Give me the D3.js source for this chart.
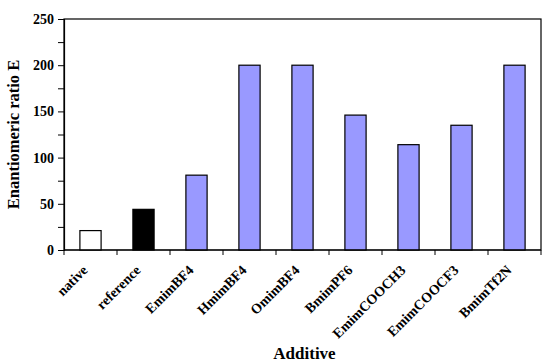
<!DOCTYPE html>
<html>
<head>
<meta charset="utf-8">
<script src="https://cdn.jsdelivr.net/npm/d3@7"></script>
<style>
  body { margin: 0; background: #fff; }
  svg text { font-family: "Liberation Serif", "Times New Roman", serif; font-weight: bold; }
</style>
</head>
<body>
<div id="chart"></div>
<script>
// data
const categories = ['native', 'reference', 'EmimBF4', 'HmimBF4', 'OmimBF4', 'BmimPF6', 'EmimCOOCH3', 'EmimCOOCF3', 'BmimTf2N'];
const values = [21, 44, 81, 200, 200, 146, 114, 135, 200];
const fills = ['#ffffff', '#000000', '#9999ff', '#9999ff', '#9999ff', '#9999ff', '#9999ff', '#9999ff', '#9999ff'];
const yTicks = [0, 50, 100, 150, 200, 250];

const width = 550, height = 364;
const margin = { top: 19, right: 9, bottom: 114, left: 64 };
const innerW = width - margin.left - margin.right;
const innerH = height - margin.top - margin.bottom;

const svg = d3.select('#chart')
  .append('svg')
  .attr('width', width)
  .attr('height', height);

const g = svg.append('g')
  .attr('transform', `translate(${margin.left},${margin.top})`);

const x = d3.scaleBand()
  .domain(categories)
  .range([0, innerW])
  .paddingInner(0.6)
  .paddingOuter(0.3);

const y = d3.scaleLinear()
  .domain([0, 250])
  .range([innerH, 0]);

// frame
g.append('rect')
  .attr('width', innerW)
  .attr('height', innerH)
  .attr('fill', 'none')
  .attr('stroke', '#000')
  .attr('stroke-width', 1.2);

// bars
g.selectAll('rect.bar')
  .data(values)
  .enter()
  .append('rect')
  .attr('class', 'bar')
  .attr('x', (d, i) => x(categories[i]))
  .attr('width', x.bandwidth())
  .attr('y', d => y(d))
  .attr('height', d => innerH - y(d))
  .attr('fill', (d, i) => fills[i])
  .attr('stroke', '#000')
  .attr('stroke-width', 1.2);

// y axis: labelled every 50, minor ticks every 25
const yAxis = g.append('g')
  .call(d3.axisLeft(y).tickValues(d3.range(0, 251, 25)).tickSize(6).tickFormat(d => yTicks.includes(d) ? d : ''));
yAxis.select('.domain').attr('stroke-width', 1.2);
yAxis.selectAll('text').attr('font-size', 14).attr('dx', -1);

// x axis: ticks at category boundaries
const step = x.step();
const xAxis = g.append('g')
  .attr('transform', `translate(0,${innerH})`);
xAxis.append('line')
  .attr('x1', 0).attr('x2', innerW)
  .attr('stroke', '#000').attr('stroke-width', 1.2);
xAxis.selectAll('line.tick')
  .data(d3.range(categories.length + 1))
  .enter()
  .append('line')
  .attr('class', 'tick')
  .attr('x1', i => i * step).attr('x2', i => i * step)
  .attr('y1', 0).attr('y2', 5)
  .attr('stroke', '#000');
xAxis.selectAll('text')
  .data(categories)
  .enter()
  .append('text')
  .attr('transform', d => `translate(${x(d) + x.bandwidth() / 2 - 2},${21}) rotate(-45)`)
  .attr('text-anchor', 'end')
  .attr('font-size', 14)
  .text(d => d);

// axis titles
svg.append('text')
  .attr('transform', `translate(19,${margin.top + innerH / 2}) rotate(-90)`)
  .attr('text-anchor', 'middle')
  .attr('font-size', 16.5)
  .text('Enantiomeric ratio E');

svg.append('text')
  .attr('x', margin.left + innerW / 2 + 2)
  .attr('y', 359)
  .attr('text-anchor', 'middle')
  .attr('font-size', 17)
  .text('Additive');
</script>
</body>
</html>
